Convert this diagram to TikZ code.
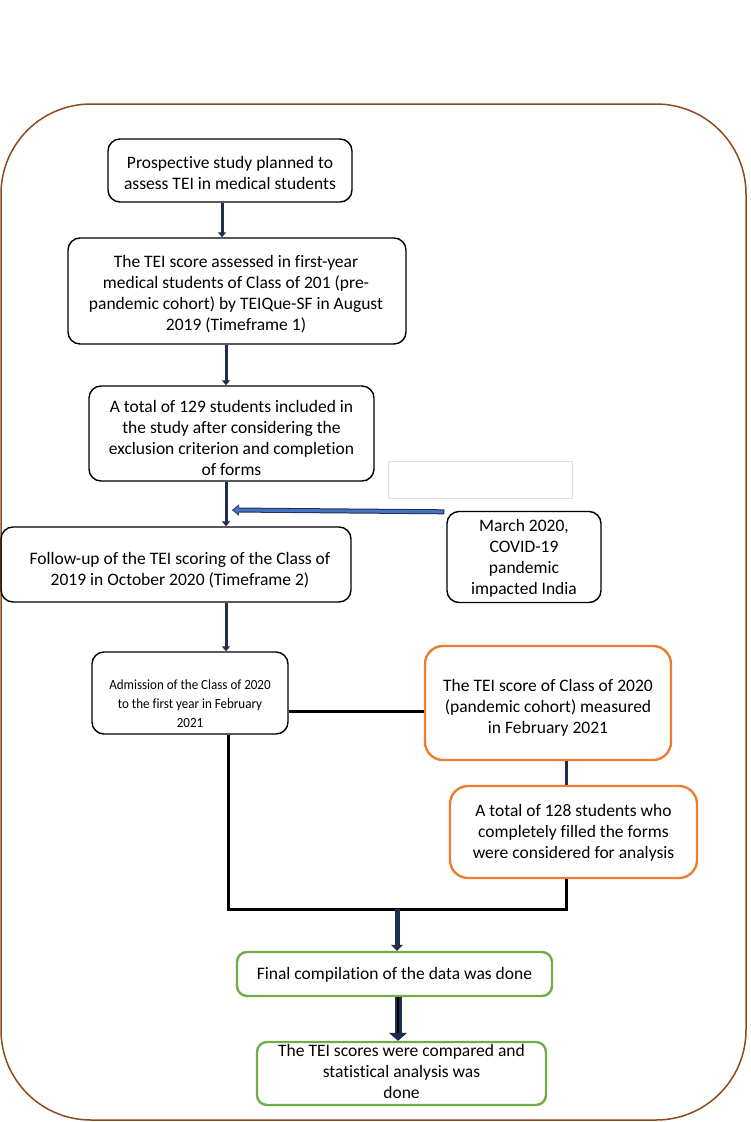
\documentclass[tikz,border=0pt]{standalone}
\usepackage{fontspec}
\setmainfont{Carlito}[Ligatures={NoCommon}]
\newfontfamily\condfont{Carlito}[Ligatures={NoCommon},FakeStretch=0.93]
\usetikzlibrary{arrows.meta,calc}
\definecolor{frame}{RGB}{140,74,30}
\definecolor{navy}{RGB}{31,45,80}
\definecolor{orng}{RGB}{237,125,49}
\definecolor{grn}{RGB}{112,173,71}
\definecolor{blu}{RGB}{68,114,196}
\tikzset{
  box/.style={draw=black, line width=1.4pt, rounded corners=12pt, inner sep=0pt},
  obox/.style={box, draw=orng, line width=2.4pt, rounded corners=18pt},
  gbox/.style={box, draw=grn, line width=2.4pt, rounded corners=10pt},
  txt/.style={align=center, inner sep=0pt, text=black, font=\fontsize{17.5}{21}\selectfont},
  stxt/.style={txt, font=\condfont\fontsize{14}{19}\selectfont},
  arr/.style={draw=navy, line width=3pt, -{Triangle[width=8pt,length=5pt]}},
  bar/.style={draw=black, line width=3pt},
}
\begin{document}
\begin{tikzpicture}[x=1pt,y=-1pt]
\useasboundingbox (0,0) rectangle (750,1122);
\draw[frame, line width=1.5pt, rounded corners=90pt] (1,104) rectangle (746,1120);

\node[box, minimum width=244pt, minimum height=63pt] (b1) at (230,170.5) {};
\node[txt] (t1) at (230,172.5) {Prospective study planned to\\assess TEI in medical students};
\node[box, minimum width=338pt, minimum height=106pt] (b2) at (237,291) {};
\node[txt] (t2) at (236,294) {The TEI score assessed in first-year\\medical students of Class of 201 (pre-\\pandemic cohort) by TEIQue-SF in August\\2019 (Timeframe 1)};
\node[box, minimum width=285pt, minimum height=95pt] (b3) at (231.5,433.5) {};
\node[txt] (t3) at (231.5,438) {A total of 129 students included in\\the study after considering the\\exclusion criterion and completion\\of forms};
\draw[black!12, line width=0.8pt] (388,461) rectangle (572,498);
\node[box, minimum width=350pt, minimum height=75pt] (b5) at (176,564.5) {};
\node[txt] (t5) at (180,570) {Follow-up of the TEI scoring of the Class of\\2019 in October 2020 (Timeframe 2)};
\node[box, minimum width=154pt, minimum height=91pt] (b6) at (524,557) {};
\node[txt] (t6) at (524,558.5) {March 2020,\\COVID-19\\pandemic\\impacted India};
\node[box, minimum width=196pt, minimum height=82pt] (b7) at (190,693) {};
\node[stxt] (t7) at (190,703.5) {Admission of the Class of 2020\\to the first year in February\\2021};
\node[obox, minimum width=246pt, minimum height=114pt] (b8) at (548,703) {};
\node[txt] (t8) at (548,708) {The TEI score of Class of 2020\\(pandemic cohort) measured\\in February 2021};
\node[obox, minimum width=247pt, minimum height=92pt] (b9) at (573.5,832) {};
\node[txt] (t9) at (573.5,833) {A total of 128 students who\\completely filled the forms\\were considered for analysis};
\node[gbox, minimum width=315pt, minimum height=44pt] (b10) at (394.5,974) {};
\node[txt] (t10) at (394.5,975) {Final compilation of the data was done};
\node[gbox, minimum width=289pt, minimum height=63pt] (b11) at (401.5,1073.5) {};
\node[txt] (t11) at (401.5,1071.5) {The TEI scores were compared and\\statistical analysis was\\done};

% arrows
\draw[arr] ([xshift=-8pt]b1.south) -- ([xshift=-8pt]b1.south |- b2.north);
\draw[arr] ([xshift=-11pt]b2.south) -- ([xshift=-11pt]b2.south |- b3.north);
\draw[arr] ([xshift=-5.5pt]b3.south) -- ([xshift=-5.5pt]b3.south |- b5.north);
\draw[arr] ([xshift=50pt]b5.south) -- ([xshift=50pt]b5.south |- b7.north);
\coordinate (bt) at (232,510);
\draw[navy, line width=5pt, -{Triangle[width=11pt,length=7pt]}] ([xshift=-2pt,yshift=-1pt]b6.north west) -- (bt);
\draw[blu, line width=3pt, -{Triangle[width=8pt,length=5pt]}] ([xshift=-3pt,yshift=-1pt]b6.north west) -- ([xshift=1.5pt]bt);

\draw[bar] ([yshift=-18.5pt]b7.east) -- ([yshift=-18.5pt]b7.east -| b8.west);
\draw[navy, line width=3pt] ([xshift=18pt]b8.south) -- ([xshift=18pt]b8.south |- b9.north);

\coordinate (jl) at (228,909);
\coordinate (jr) at (566,909);
\coordinate (jm) at (397,909);
\draw[bar] ([xshift=38pt]b7.south) -- (jl) -- (jr) -- (jr |- b9.south);
\draw[navy, line width=5pt, -{Triangle[width=12pt,length=6pt]}] (jm) -- (jm |- b10.north);

\draw[navy, line width=7pt, -{Triangle[width=18pt,length=8pt]}] ([xshift=3.5pt]b10.south) -- ([xshift=3.5pt]b10.south |- b11.north);
\draw[black, line width=1.2pt] ([xshift=3.5pt]b10.south) -- ([xshift=3.5pt,yshift=-36pt]b10.south);
\end{tikzpicture}
\end{document}
